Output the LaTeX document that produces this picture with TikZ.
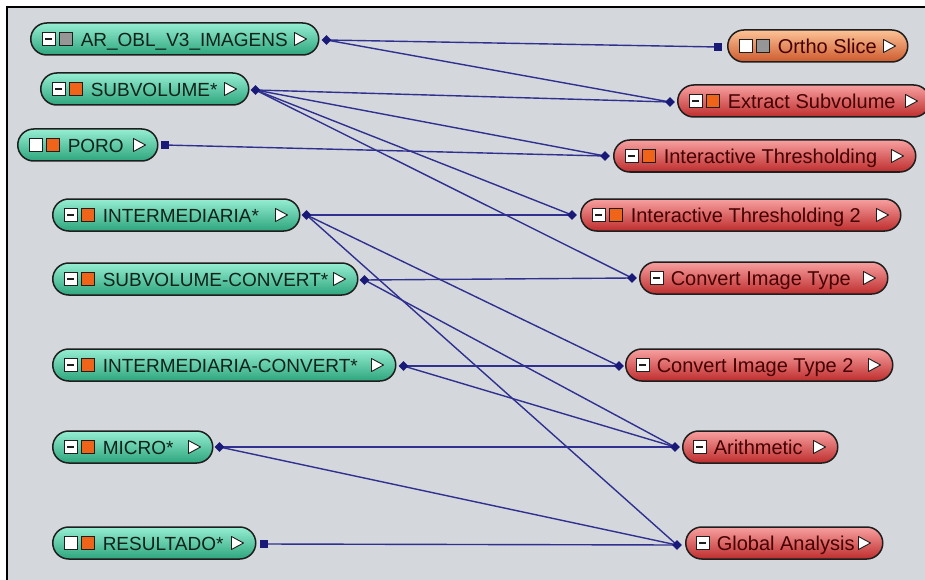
\documentclass[tikz,border=0pt]{standalone}
\usepackage{fontspec}
\setmainfont{Liberation Sans}
\usetikzlibrary{calc,shapes.geometric}
\definecolor{bgc}{RGB}{212,215,219}
\definecolor{gtop}{RGB}{150,238,210}
\definecolor{gmid}{RGB}{85,212,168}
\definecolor{gbot}{RGB}{45,165,125}
\definecolor{rtop}{RGB}{248,160,160}
\definecolor{rmid}{RGB}{232,88,88}
\definecolor{rbot}{RGB}{190,45,45}
\definecolor{otop}{RGB}{252,195,150}
\definecolor{omid}{RGB}{242,135,85}
\definecolor{obot}{RGB}{205,90,45}
\definecolor{gtext}{RGB}{15,35,28}
\definecolor{rtext}{RGB}{70,0,0}
\definecolor{outl}{RGB}{30,30,30}
\definecolor{wire}{RGB}{48,48,145}
\definecolor{portc}{RGB}{25,25,120}
\definecolor{sqorange}{RGB}{240,100,25}
\definecolor{sqgray}{RGB}{150,150,150}
\newcommand\plabel[3]{\makebox[#1pt][l]{\hspace*{#2pt}\rule[-8pt]{0pt}{30.3pt}#3}}
\tikzset{
  pillbase/.style={rounded corners=16pt, minimum height=32pt, inner xsep=0pt, inner ysep=0pt,
    draw=outl, line width=1.5pt, anchor=west},
  gpill/.style={pillbase, top color=gtop, middle color=gmid, bottom color=gbot, text=gtext,
    font=\fontsize{19}{21}\selectfont},
  rpill/.style={pillbase, top color=rtop, middle color=rmid, bottom color=rbot, text=rtext,
    font=\fontsize{20}{22}\selectfont},
  opill/.style={pillbase, top color=otop, middle color=omid, bottom color=obot, text=rtext,
    font=\fontsize{20}{22}\selectfont},
  iconbox/.style={draw=outl, line width=1pt},
  minusbar/.style={draw=outl, line width=1.8pt},
  tristyle/.style={fill=white, draw=outl, line width=0.9pt, line join=round},
  wireline/.style={draw=wire, line width=1.4pt},
  portd/.style={diamond, fill=portc, inner sep=0pt, minimum size=10pt},
  ports/.style={rectangle, fill=portc, inner sep=0pt, minimum size=8pt}
}
% icons: minus square + coloured square + triangle
\newcommand\iconsMC[2]{%
  \filldraw[iconbox, fill=white] ($(#1.west)+(12,-6.5)$) rectangle ++(13,13);
  \draw[minusbar] ($(#1.west)+(15,0)$) -- ++(7,0);
  \filldraw[iconbox, fill=#2] ($(#1.west)+(29,-6.5)$) rectangle ++(13,13);
  \filldraw[tristyle] ($(#1.east)+(-25,-6.5)$) -- ++(12,6.5) -- ++(-12,6.5) -- cycle;}
% empty square + coloured square + triangle
\newcommand\iconsEC[2]{%
  \filldraw[iconbox, fill=white] ($(#1.west)+(12,-6.5)$) rectangle ++(13,13);
  \filldraw[iconbox, fill=#2] ($(#1.west)+(29,-6.5)$) rectangle ++(13,13);
  \filldraw[tristyle] ($(#1.east)+(-25,-6.5)$) -- ++(12,6.5) -- ++(-12,6.5) -- cycle;}
% minus square only + triangle
\newcommand\iconsM[1]{%
  \filldraw[iconbox, fill=white] ($(#1.west)+(11,-6.5)$) rectangle ++(13,13);
  \draw[minusbar] ($(#1.west)+(14,0)$) -- ++(7,0);
  \filldraw[tristyle] ($(#1.east)+(-25,-6.5)$) -- ++(12,6.5) -- ++(-12,6.5) -- cycle;}
\begin{document}
\begin{tikzpicture}[x=1pt,y=-1pt]
\useasboundingbox (0,0) rectangle (925,580);
\fill[white] (0,0) rectangle (925,580);
\fill[bgc] (7,7) rectangle (925,580);
\draw[black, line width=2pt] (7,580) -- (7,7) -- (925,7);

% data objects (green)
\node[gpill] (AR)    at (30,39)  {\plabel{288}{50}{AR\_OBL\_V3\_IMAGENS}};
\node[gpill] (SUB)   at (40,89)  {\plabel{208}{50}{SUBVOLUME*}};
\node[gpill] (PORO)  at (17,145) {\plabel{140}{50}{PORO}};
\node[gpill] (INT)   at (52,215) {\plabel{247}{50}{INTERMEDIARIA*}};
\node[gpill] (SUBC)  at (52,279) {\plabel{305}{50}{SUBVOLUME-CONVERT*}};
\node[gpill] (INTC)  at (52,365) {\plabel{343}{50}{INTERMEDIARIA-CONVERT*}};
\node[gpill] (MICRO) at (52,447) {\plabel{160}{50}{MICRO*}};
\node[gpill] (RES)   at (52,543) {\plabel{203}{50}{RESULTADO*}};

% modules
\node[opill] (ORTHO) at (727,46)  {\plabel{180}{50}{Ortho Slice}};
\node[rpill] (EXTS)  at (677,101) {\plabel{252}{50}{Extract Subvolume}};
\node[rpill] (IT)    at (613,156) {\plabel{302}{50}{Interactive Thresholding}};
\node[rpill] (IT2)   at (580,215) {\plabel{320}{50}{Interactive Thresholding 2}};
\node[rpill] (CIT)   at (639,278) {\plabel{248}{31}{Convert Image Type}};
\node[rpill] (CIT2)  at (625,365) {\plabel{267}{31}{Convert Image Type 2}};
\node[rpill] (ARITH) at (682,447) {\plabel{155}{31}{Arithmetic}};
\node[rpill] (GA)    at (685,543) {\plabel{197}{31}{Global Analysis}};

% icons
\iconsMC{AR}{sqgray}
\iconsMC{SUB}{sqorange}
\iconsEC{PORO}{sqorange}
\iconsMC{INT}{sqorange}
\iconsMC{SUBC}{sqorange}
\iconsMC{INTC}{sqorange}
\iconsMC{MICRO}{sqorange}
\iconsEC{RES}{sqorange}
\iconsEC{ORTHO}{sqgray}
\iconsMC{EXTS}{sqorange}
\iconsMC{IT}{sqorange}
\iconsMC{IT2}{sqorange}
\iconsM{CIT}
\iconsM{CIT2}
\iconsM{ARITH}
\iconsM{GA}

% ports
\coordinate (pAR)    at ($(AR.east)+(7,1)$);
\coordinate (pSUB)   at ($(SUB.east)+(6,1)$);
\coordinate (pPORO)  at ($(PORO.east)+(6,0)$);
\coordinate (pINT)   at ($(INT.east)+(6,0)$);
\coordinate (pSUBC)  at ($(SUBC.east)+(6,1)$);
\coordinate (pINTC)  at ($(INTC.east)+(7,1)$);
\coordinate (pMICRO) at ($(MICRO.east)+(6,0)$);
\coordinate (pRES)   at ($(RES.east)+(7,1)$);
\coordinate (pORTHO) at ($(ORTHO.west)+(-9,1)$);
\coordinate (pEXTS)  at ($(EXTS.west)+(-7,1)$);
\coordinate (pIT)    at ($(IT.west)+(-8,0)$);
\coordinate (pIT2)   at ($(IT2.west)+(-8,0)$);
\coordinate (pCIT)   at ($(CIT.west)+(-7,0)$);
\coordinate (pCIT2)  at ($(CIT2.west)+(-6,1)$);
\coordinate (pARITH) at ($(ARITH.west)+(-7,0)$);
\coordinate (pGA)    at ($(GA.west)+(-8,2)$);

% connections
\draw[wireline] (pAR) -- (pORTHO);
\draw[wireline] (pAR) -- (pEXTS);
\draw[wireline] (pSUB) -- (pEXTS);
\draw[wireline] (pSUB) -- (pIT);
\draw[wireline] (pSUB) -- (pIT2);
\draw[wireline] (pSUB) -- (pCIT);
\draw[wireline] (pPORO) -- (pIT);
\draw[wireline] (pINT) -- (pIT2);
\draw[wireline] (pINT) -- (pCIT2);
\draw[wireline] (pINT) -- (pGA);
\draw[wireline] (pSUBC) -- (pCIT);
\draw[wireline] (pSUBC) -- (pARITH);
\draw[wireline] (pINTC) -- (pCIT2);
\draw[wireline] (pINTC) -- (pARITH);
\draw[wireline] (pMICRO) -- (pARITH);
\draw[wireline] (pMICRO) -- (pGA);
\draw[wireline] (pRES) -- (pGA);

% port markers
\node[portd] (mAR)    at (pAR) {};
\node[portd] (mSUB)   at (pSUB) {};
\node[ports] (mPORO)  at (pPORO) {};
\node[portd] (mINT)   at (pINT) {};
\node[portd] (mSUBC)  at (pSUBC) {};
\node[portd] (mINTC)  at (pINTC) {};
\node[portd] (mMICRO) at (pMICRO) {};
\node[ports] (mRES)   at (pRES) {};
\node[ports] (mORTHO) at (pORTHO) {};
\node[portd] (mEXTS)  at (pEXTS) {};
\node[portd] (mIT)    at (pIT) {};
\node[portd] (mIT2)   at (pIT2) {};
\node[portd] (mCIT)   at (pCIT) {};
\node[portd] (mCIT2)  at (pCIT2) {};
\node[portd] (mARITH) at (pARITH) {};
\node[portd] (mGA)    at (pGA) {};
\end{tikzpicture}
\end{document}
